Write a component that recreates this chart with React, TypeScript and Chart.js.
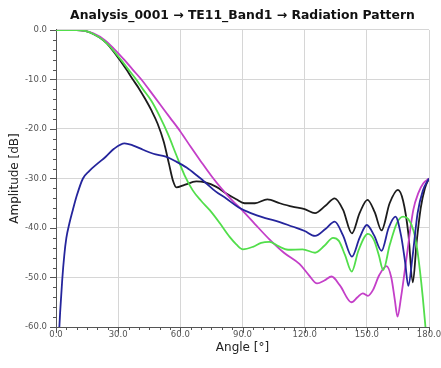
import React, { useEffect, useRef } from "react";
import { Chart, registerables } from "chart.js";

Chart.register(...registerables);

const chartTitle = "Analysis_0001 \u2192 TE11_Band1 \u2192 Radiation Pattern";
const xTitle = "Angle [\u00b0]";
const yTitle = "Amplitude [dB]";

const xMin = 0;
const xMax = 180;
const xStep = 30;
const xMinorStep = 5;
const yMin = -60;
const yMax = 0;
const yStep = 10;
const yMinorStep = 2;

const blackAngles = [0, 10, 14, 18, 22.6, 26, 30.7, 34, 37.1, 40, 43, 46, 49, 52, 54.5, 56.5, 58.1, 62, 67.7, 72, 77.4, 82, 87, 91, 96, 102, 108, 114, 120, 125, 130, 134.5, 138.5, 142.8, 146.5, 150.3, 153.8, 157.1, 161, 165, 167.5, 170, 172.2, 174, 176, 178, 180];
const blackValues = [0, 0, -0.2, -0.8, -2, -3.4, -6, -8, -10, -11.8, -13.9, -16.2, -18.9, -22.6, -27, -30.5, -31.8, -31.3, -30.6, -30.8, -31.7, -33, -34.2, -35, -35, -34.2, -35, -35.7, -36.2, -37, -35.5, -34, -36.3, -41.1, -37, -34.3, -36.8, -40.5, -35, -32.3, -34.5, -41, -51, -43, -36, -32, -30];

const greenAngles = [0, 10, 14, 18, 22.6, 27, 31.5, 35, 38.7, 42, 46, 50, 54, 58, 62, 66, 70, 74.2, 79, 83.8, 87, 90.2, 95, 99, 103, 107, 112, 119, 125, 129.5, 133.7, 136.5, 139.5, 142.7, 146, 150.5, 153.5, 155.8, 157.9, 161, 164.5, 167.5, 170, 172.5, 174.2, 175.6, 177, 178.5];
const greenValues = [0, 0, -0.2, -0.8, -2, -3.8, -6.1, -8, -10, -12, -14.3, -17.4, -21, -25.2, -29.3, -32.4, -34.5, -36.4, -39, -41.8, -43.3, -44.3, -43.8, -43, -42.8, -43.6, -44.4, -44.3, -45, -43.6, -42, -42.6, -45.5, -48.8, -44.5, -41.2, -42.5, -45.5, -48.5, -43.5, -39, -37.7, -38.2, -40.5, -44, -48.5, -54, -61];

const magentaAngles = [0, 10, 14, 18, 23.4, 28, 33.1, 37, 41.2, 45, 50, 55, 60, 65, 70, 75, 80, 85, 90, 96, 103, 110, 117.6, 122, 126, 129.5, 133, 137, 142.6, 145.5, 148, 150.5, 153, 156, 159.5, 161.8, 163.5, 164.8, 166.5, 169, 172.4, 175, 177.2, 180];
const magentaValues = [0, 0, -0.2, -0.7, -2, -3.8, -6.1, -8, -10, -12.1, -14.9, -17.7, -20.5, -23.6, -26.6, -29.5, -32.1, -34.4, -36.5, -39.2, -42.3, -45, -47.3, -49.5, -51.2, -50.6, -49.8, -51.6, -55, -54, -53.2, -53.7, -52.5, -49.5, -47.7, -50, -54.5, -57.9, -54, -46.5, -36.4, -32.8, -31, -30];

const blueAngles = [1.5, 2, 3, 4, 5, 6.5, 8.1, 10, 13, 16, 20, 24, 28, 33.1, 37, 42, 47, 53, 58, 63, 68, 72.6, 77, 82, 88, 94, 101, 108, 114, 120, 125, 130, 134.5, 138.5, 142.8, 146.5, 150, 153.5, 157.1, 160.5, 163.8, 166.5, 168.5, 170, 172, 174.5, 177, 180];
const blueValues = [-61, -57, -50.5, -45.5, -42, -39, -36.4, -33.5, -30, -28.5, -27, -25.6, -24, -22.9, -23.3, -24.2, -25, -25.6, -26.6, -27.8, -29.4, -31, -32.6, -34, -35.8, -37, -38, -38.8, -39.7, -40.6, -41.6, -40.2, -38.7, -41.5, -45.8, -42, -39.4, -41.5, -44.6, -40, -37.7, -41.5, -47, -51.7, -46, -37, -32.5, -30];

const seriesList = [
  { name: "Blue", angles: blueAngles, values: blueValues, color: "#25259c" },
  { name: "Green", angles: greenAngles, values: greenValues, color: "#52de4b" },
  { name: "Magenta", angles: magentaAngles, values: magentaValues, color: "#c43fc8" },
  { name: "Black", angles: blackAngles, values: blackValues, color: "#1c1c1c" },
];

const FONT = "'DejaVu Sans', Verdana, sans-serif";

const minorTicksPlugin = {
  id: "minorTicks",
  afterDraw(chart: any) {
    const ctx = chart.ctx;
    const xs = chart.scales.x;
    const ys = chart.scales.y;
    const area = chart.chartArea;
    ctx.save();
    ctx.strokeStyle = "#555555";
    ctx.lineWidth = 1;
    ctx.beginPath();
    for (let v = xMin; v <= xMax + 1e-9; v += xMinorStep) {
      const px = Math.round(xs.getPixelForValue(v)) + 0.5;
      const len = Math.abs(v % xStep) < 1e-9 ? 6 : 3;
      ctx.moveTo(px, area.bottom);
      ctx.lineTo(px, area.bottom + len);
    }
    for (let v = yMin; v <= yMax + 1e-9; v += yMinorStep) {
      const py = Math.round(ys.getPixelForValue(v)) + 0.5;
      const len = Math.abs(v % yStep) < 1e-9 ? 6 : 3;
      ctx.moveTo(area.left, py);
      ctx.lineTo(area.left - len, py);
    }
    ctx.stroke();
    ctx.restore();
  },
};

export default function App() {
  const canvasRef = useRef<HTMLCanvasElement | null>(null);

  useEffect(() => {
    document.body.style.margin = "0";
    const canvas = canvasRef.current;
    if (!canvas) return;
    const chart = new Chart(canvas, {
      type: "line",
      data: {
        datasets: seriesList.map((s) => ({
          label: s.name,
          data: s.angles.map((a, i) => ({ x: a, y: s.values[i] })),
          borderColor: s.color,
          backgroundColor: s.color,
          borderWidth: 1.8,
          pointRadius: 0,
          fill: false,
          tension: 0.4,
          cubicInterpolationMode: "monotone" as const,
        })),
      },
      options: {
        responsive: false,
        animation: false,
        layout: { padding: { left: 0, right: 12, top: 0, bottom: 0 } },
        plugins: {
          legend: { display: false },
          tooltip: { enabled: false },
          title: {
            display: true,
            text: chartTitle,
            fullSize: false,
            color: "#111111",
            font: { family: FONT, size: 12.4, weight: "bold" },
            padding: { top: 8, bottom: 7.1 },
          },
        },
        scales: {
          x: {
            type: "linear",
            min: xMin,
            max: xMax,
            afterFit: (s: any) => {
              s.height = 41;
              s.paddingLeft = 0;
              s.paddingRight = 0;
            },
            ticks: {
              stepSize: xStep,
              padding: 3,
              color: "#555555",
              font: { family: FONT, size: 8.5 },
              maxRotation: 0,
              callback: (v: any) => Number(v).toFixed(1),
            },
            grid: { color: "#d6d6d6", drawTicks: false, lineWidth: 1 },
            border: { color: "#555555", width: 1 },
            title: {
              display: true,
              text: xTitle,
              color: "#222222",
              font: { family: FONT, size: 12 },
              padding: { top: 0, bottom: 13.3 },
            },
          },
          y: {
            type: "linear",
            min: yMin,
            max: yMax,
            afterFit: (s: any) => {
              s.width = 56;
            },
            ticks: {
              stepSize: yStep,
              padding: 9,
              color: "#555555",
              font: { family: FONT, size: 8.5 },
              callback: (v: any) => Number(v).toFixed(1),
            },
            grid: { color: "#d6d6d6", drawTicks: false, lineWidth: 1 },
            border: { color: "#555555", width: 1 },
            title: {
              display: true,
              text: yTitle,
              color: "#222222",
              font: { family: FONT, size: 12 },
              padding: { top: 8, bottom: 0 },
            },
          },
        },
      },
      plugins: [minorTicksPlugin],
    });
    return () => chart.destroy();
  }, []);

  return (
    <div style={{ width: 441, height: 368, background: "#ffffff" }}>
      <canvas ref={canvasRef} width={441} height={368} style={{ display: "block" }} />
    </div>
  );
}
